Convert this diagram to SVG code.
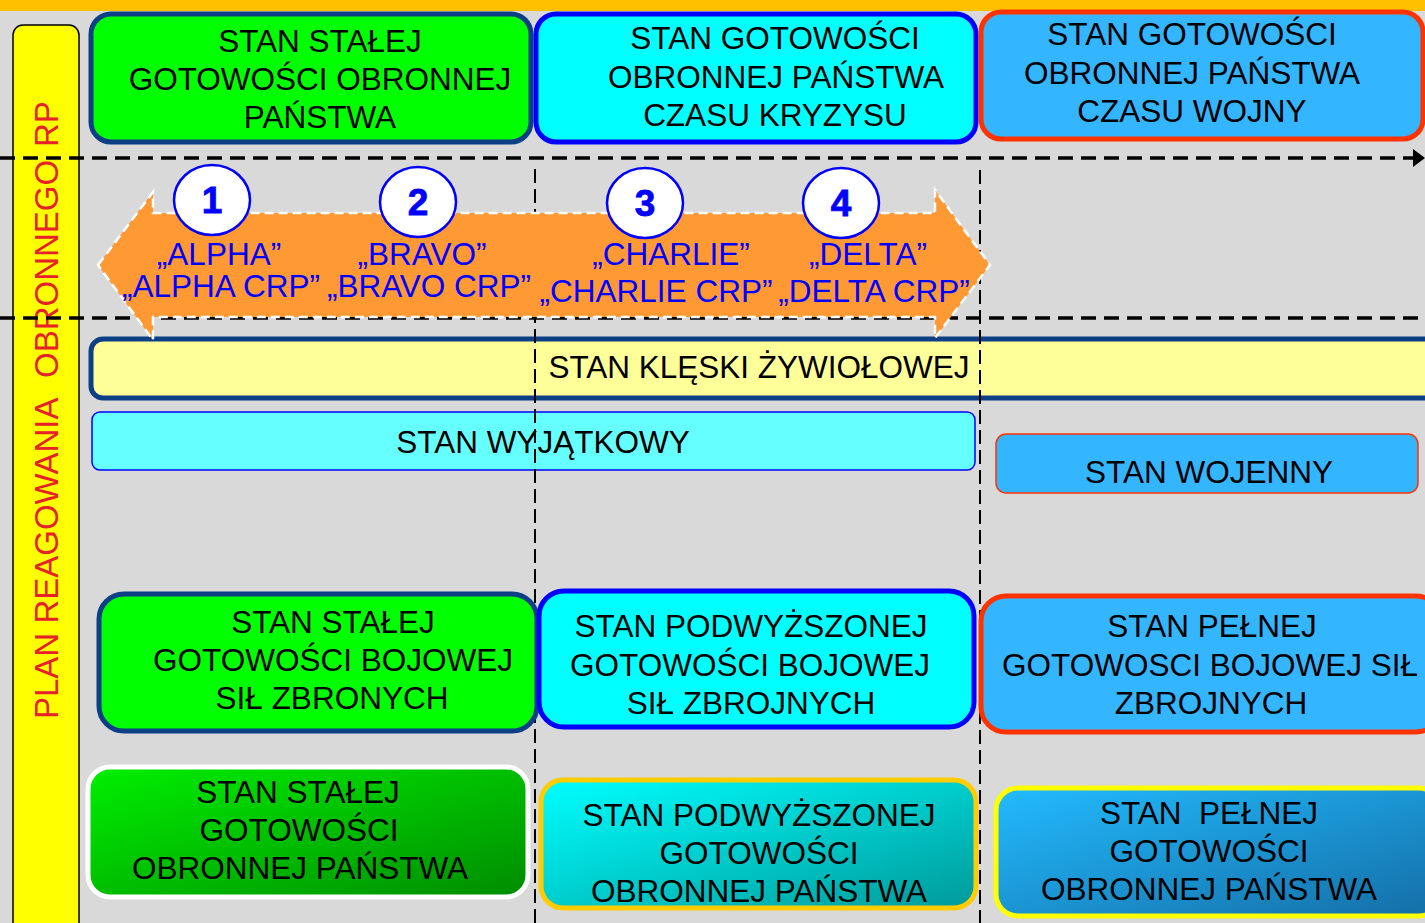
<svg xmlns="http://www.w3.org/2000/svg" width="1425" height="923" viewBox="0 0 1425 923">
<style>
.t{font-family:"Liberation Sans",Arial,sans-serif;font-size:31.5px;fill:#000;text-anchor:middle}
.b{font-family:"Liberation Sans",Arial,sans-serif;font-size:31.5px;fill:#0000ff;text-anchor:middle}
.n{font-family:"Liberation Sans",Arial,sans-serif;font-size:37px;font-weight:bold;fill:#0000ff;text-anchor:middle;stroke:#0000ff;stroke-width:0.8}
.hd{stroke:#000;stroke-width:3.5;stroke-dasharray:15 8;fill:none}
.vd{stroke:#000;stroke-width:2;stroke-dasharray:14 6;fill:none}
.c{fill:#fff;stroke:#0000ff;stroke-width:2.5}
</style>
<defs>
<marker id="ah" markerWidth="12" markerHeight="18" refX="0" refY="9" orient="auto" markerUnits="userSpaceOnUse"><path d="M0,0 L12,9 L0,18 Z" fill="#000"/></marker>
<linearGradient id="gG" x1="0" y1="0" x2="1" y2="1"><stop offset="0" stop-color="#00f000"/><stop offset="1" stop-color="#008c00"/></linearGradient>
<linearGradient id="gC" x1="0" y1="0" x2="1" y2="1"><stop offset="0" stop-color="#00ffff"/><stop offset="1" stop-color="#009a9a"/></linearGradient>
<linearGradient id="gB" x1="0" y1="0" x2="1" y2="1"><stop offset="0" stop-color="#22bbff"/><stop offset="1" stop-color="#146ea6"/></linearGradient>
</defs>
<rect x="0" y="0" width="1425" height="923" fill="#d9d9d9"/>
<rect x="0" y="0" width="1425" height="11" fill="#ffc000"/>

<g id="plan">
<rect x="13" y="25" width="66" height="920" rx="10" fill="#ffff00" stroke="#000" stroke-width="1.5"/>
<text transform="translate(58,719) rotate(-90)" style="font-family:'Liberation Sans',Arial,sans-serif;font-size:33px;fill:#e62129"><tspan x="0">PLAN</tspan><tspan x="95.4">REAGOWANIA</tspan><tspan x="341">OBRONNEGO</tspan><tspan x="572">RP</tspan></text>
</g>

<g id="top-green">
<rect x="91" y="14" width="440" height="128" rx="20" fill="#00ff00" stroke="#0d3f87" stroke-width="5"/>
<text class="t" x="320" y="52">STAN STAŁEJ</text>
<text class="t" x="320" y="90">GOTOWOŚCI OBRONNEJ</text>
<text class="t" x="320" y="128">PAŃSTWA</text>
</g>
<g id="top-cyan">
<rect x="536" y="14" width="440" height="128" rx="20" fill="#00ffff" stroke="#0000ff" stroke-width="5"/>
<text class="t" x="775" y="49">STAN GOTOWOŚCI</text>
<text class="t" x="776" y="88">OBRONNEJ PAŃSTWA</text>
<text class="t" x="775" y="126">CZASU KRYZYSU</text>
</g>
<g id="top-blue">
<rect x="981" y="12" width="442" height="127" rx="20" fill="#33b5ff" stroke="#ff3300" stroke-width="5"/>
<text class="t" x="1192" y="45">STAN GOTOWOŚCI</text>
<text class="t" x="1192" y="84">OBRONNEJ PAŃSTWA</text>
<text class="t" x="1192" y="122">CZASU WOJNY</text>
</g>

<g id="bar-kleski">
<rect x="91" y="339" width="1345" height="59" rx="12" fill="#ffff99" stroke="#0d3f87" stroke-width="5"/>
<text class="t" x="759" y="378">STAN KLĘSKI ŻYWIOŁOWEJ</text>
</g>
<g id="bar-wyjatkowy">
<rect x="92" y="412" width="883" height="58" rx="8" fill="#66ffff" stroke="#0000ff" stroke-width="1.5"/>
<text class="t" x="543" y="453">STAN WYJĄTKOWY</text>
</g>
<g id="bar-wojenny">
<rect x="996" y="434" width="422" height="59" rx="10" fill="#33b5ff" stroke="#ff3300" stroke-width="1.5"/>
<text class="t" x="1209" y="483">STAN WOJENNY</text>
</g>

<g id="connectors">
<line class="hd" x1="0" y1="158" x2="1413" y2="158" marker-end="url(#ah)"/>
<line class="hd" x1="0" y1="318" x2="1425" y2="318"/>
<line class="vd" x1="535" y1="169" x2="535" y2="923"/>
<line class="vd" x1="980" y1="170" x2="980" y2="923"/>
</g>

<g id="phase-arrow">
<polygon points="98,265 153,192 153,213 935,213 935,190 990,265 935,338 935,317 153,317 153,340" fill="#ff9933" stroke="#fff" stroke-width="2.5" stroke-dasharray="9 5"/>
</g>
<g id="phase-1">
<ellipse class="c" cx="212" cy="200" rx="38" ry="35"/>
<text class="n" x="212" y="213">1</text>
<text class="b" x="219" y="265">„ALPHA”</text>
<text class="b" x="221" y="297">„ALPHA CRP”</text>
</g>
<g id="phase-2">
<ellipse class="c" cx="418" cy="202" rx="38" ry="35"/>
<text class="n" x="418" y="215">2</text>
<text class="b" x="422" y="265">„BRAVO”</text>
<text class="b" x="429" y="297">„BRAVO CRP”</text>
</g>
<g id="phase-3">
<ellipse class="c" cx="645" cy="203" rx="38" ry="35"/>
<text class="n" x="645" y="216">3</text>
<text class="b" x="671" y="265">„CHARLIE”</text>
<text class="b" x="656" y="302">„CHARLIE CRP”</text>
</g>
<g id="phase-4">
<ellipse class="c" cx="841" cy="203" rx="38" ry="35"/>
<text class="n" x="841" y="216">4</text>
<text class="b" x="868" y="265">„DELTA”</text>
<text class="b" x="874" y="302">„DELTA CRP”</text>
</g>

<g id="mid-green">
<rect x="99" y="594" width="438" height="137" rx="25" fill="#00ff00" stroke="#0d3f87" stroke-width="5"/>
<text class="t" x="333" y="633">STAN STAŁEJ</text>
<text class="t" x="333" y="671">GOTOWOŚCI BOJOWEJ</text>
<text class="t" x="332" y="709">SIŁ ZBRONYCH</text>
</g>
<g id="mid-cyan">
<rect x="539" y="591" width="435" height="136" rx="25" fill="#00ffff" stroke="#0000ff" stroke-width="5"/>
<text class="t" x="751" y="637">STAN PODWYŻSZONEJ</text>
<text class="t" x="750" y="676">GOTOWOŚCI BOJOWEJ</text>
<text class="t" x="751" y="714">SIŁ ZBROJNYCH</text>
</g>
<g id="mid-blue">
<rect x="981" y="596" width="460" height="136" rx="25" fill="#33b5ff" stroke="#ff3300" stroke-width="5"/>
<text class="t" x="1212" y="637">STAN PEŁNEJ</text>
<text class="t" x="1210" y="676">GOTOWOSCI BOJOWEJ SIŁ</text>
<text class="t" x="1211" y="714">ZBROJNYCH</text>
</g>

<g id="bot-green">
<rect x="88" y="767" width="440" height="130" rx="22" fill="url(#gG)" stroke="#fff" stroke-width="5"/>
<text class="t" x="298" y="803">STAN STAŁEJ</text>
<text class="t" x="299" y="841">GOTOWOŚCI</text>
<text class="t" x="300" y="879">OBRONNEJ PAŃSTWA</text>
</g>
<g id="bot-cyan">
<rect x="541" y="780" width="435" height="128" rx="22" fill="url(#gC)" stroke="#ffcc00" stroke-width="5"/>
<text class="t" x="759" y="826">STAN PODWYŻSZONEJ</text>
<text class="t" x="759" y="864">GOTOWOŚCI</text>
<text class="t" x="759" y="902">OBRONNEJ PAŃSTWA</text>
</g>
<g id="bot-blue">
<rect x="996" y="788" width="445" height="128" rx="22" fill="url(#gB)" stroke="#ffff00" stroke-width="5"/>
<text class="t" x="1209" y="824">STAN&#160; PEŁNEJ</text>
<text class="t" x="1209" y="862">GOTOWOŚCI</text>
<text class="t" x="1209" y="900">OBRONNEJ PAŃSTWA</text>
</g>
</svg>
